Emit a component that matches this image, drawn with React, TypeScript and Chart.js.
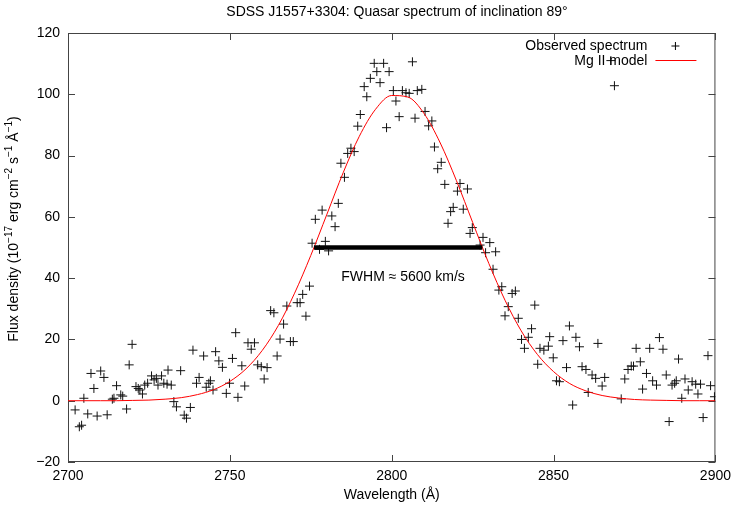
import { useEffect, useRef } from "react";
import { Chart, registerables } from "chart.js";
import type { Plugin } from "chart.js";

Chart.register(...registerables);

const chartTitle = "SDSS J1557+3304: Quasar spectrum of inclination 89°";

// observed spectrum (wavelength in Å, flux in 1e-17 erg/cm2/s/Å)
const obsWave = [
  2702.2, 2703.5, 2704.2, 2704.9, 2706.1, 2707.1, 2708.0, 2709.0, 2710.1, 2711.1,
  2712.1, 2713.7, 2714.2, 2715.0, 2716.3, 2716.9, 2718.1, 2718.9, 2719.8, 2721.0,
  2721.7, 2722.2, 2723.0, 2723.7, 2724.6, 2725.8, 2726.6, 2727.3, 2727.8, 2728.9,
  2729.6, 2730.6, 2730.9, 2731.9, 2732.7, 2733.5, 2734.8, 2735.9, 2736.6, 2737.8,
  2738.6, 2739.7, 2740.5, 2741.9, 2742.7, 2743.5, 2744.0, 2744.8, 2745.6, 2746.6,
  2747.7, 2748.9, 2749.9, 2750.8, 2751.8, 2752.5, 2753.7, 2754.6, 2755.6, 2756.6,
  2757.6, 2758.6, 2759.7, 2760.6, 2761.5, 2762.6, 2763.6, 2764.6, 2765.5, 2766.6,
  2767.6, 2768.7, 2769.6, 2770.8, 2771.7, 2772.5, 2773.5, 2774.6, 2775.4, 2776.4,
  2777.7, 2778.5, 2779.5, 2780.5, 2781.5, 2782.5, 2783.5, 2784.3, 2785.4, 2786.4,
  2787.4, 2788.4, 2789.5, 2790.3, 2791.5, 2792.3, 2793.4, 2794.6, 2795.4, 2796.4,
  2797.5, 2798.4, 2799.2, 2800.5, 2801.3, 2802.3, 2803.3, 2804.4, 2805.4, 2806.4,
  2807.2, 2807.9, 2809.3, 2810.3, 2811.4, 2812.4, 2813.2, 2814.2, 2815.3, 2816.4,
  2817.4, 2818.2, 2819.0, 2820.3, 2821.1, 2822.1, 2823.4, 2824.2, 2824.9, 2827.3,
  2828.2, 2829.0, 2830.3, 2831.3, 2832.1, 2833.1, 2834.0, 2835.0, 2836.0, 2837.2,
  2838.2, 2839.1, 2840.1, 2841.0, 2842.2, 2843.2, 2844.2, 2845.1, 2845.8, 2847.0,
  2848.4, 2848.8, 2849.9, 2850.9, 2851.8, 2852.9, 2854.0, 2854.9, 2855.9, 2856.9,
  2858.0, 2858.8, 2860.0, 2860.7, 2861.9, 2863.0, 2863.7, 2865.0, 2865.8, 2867.7,
  2868.8, 2870.9, 2872.0, 2873.0, 2874.0, 2874.7, 2875.5, 2876.8, 2877.5, 2878.7,
  2879.7, 2880.6, 2881.8, 2882.7, 2883.8, 2884.8, 2885.7, 2886.6, 2887.4, 2887.9,
  2888.6, 2889.6, 2890.6, 2891.6, 2892.8, 2893.9, 2894.6, 2895.4, 2896.2, 2897.7,
  2898.5, 2899.7,
];
const obsFlux = [
  -3.0, -8.5, -8.0, 0.8, -4.3, 8.9, 4.0, -5.0, 9.7, 7.6,
  -4.6, 0.5, 0.8, 4.9, 1.9, 1.5, -2.7, 11.7, 18.4, 4.6,
  4.0, 3.5, 2.2, 5.1, 5.7, 8.1, 6.8, 7.3, 5.1, 8.1,
  5.7, 5.4, 10.0, 5.1, -0.3, -2.0, 9.8, -4.7, -5.7, -2.2,
  16.5, 5.7, 7.6, 14.6, 4.4, 5.7, 6.5, 3.5, 16.0, 13.0,
  10.9, 2.4, 5.7, 13.8, 22.2, 1.1, 11.4, 4.8, 18.9, 16.8,
  18.9, 11.7, 11.1, 7.1, 10.8, 29.4, 28.7, 14.6, 20.1, 25.0,
  30.9, 19.3, 19.3, 32.0, 32.0, 34.7, 27.6, 37.4, 51.4, 59.2,
  49.4, 62.2, 52.0, 48.9, 60.3, 56.8, 64.4, 77.5, 72.9, 80.7,
  82.4, 81.3, 89.6, 93.4, 102.5, 99.2, 105.2, 110.1, 107.4, 103.8,
  110.1, 89.1, 107.4, 101.2, 97.8, 92.7, 101.2, 100.5, 100.3, 110.6,
  92.2, 101.2, 101.6, 94.4, 89.7, 91.3, 82.8, 75.7, 77.8, 70.6,
  57.9, 61.7, 63.1, 68.4, 70.9, 62.5, 69.1, 54.6, 56.5, 50.8,
  53.3, 48.3, 51.6, 42.9, 48.6, 36.1, 37.2, 27.7, 30.7, 35.0,
  35.8, 26.9, 20.0, 17.1, 20.7, 23.5, 31.2, 11.9, 17.1, 16.5,
  17.8, 20.9, 14.0, 6.5, 6.2, 19.6, 10.8, 24.4, -1.4, 20.7,
  17.6, 11.1, 10.2, 2.7, 8.4, 7.3, 18.7, 4.8, 7.6, 111.0,
  102.8, 0.6, 7.1, 10.2, 11.3, 11.3, 17.1, 12.7, 3.8, 8.9,
  17.1, 6.5, 5.1, 20.6, 16.8, 8.4, -6.8, 5.1, 5.7, 6.5,
  13.6, 0.8, 7.1, 3.5, 6.2, 5.4, 2.2, 5.4, -5.5, 14.7,
  4.9, 1.3,
];

// Mg II model curve, read every 5 Å
const modelWave = [
  2700, 2705, 2710, 2715, 2720, 2725, 2730, 2735, 2740, 2745,
  2750, 2755, 2760, 2765, 2770, 2775, 2780, 2785, 2790, 2795,
  2800, 2805, 2810, 2815, 2820, 2825, 2830, 2835, 2840, 2845,
  2850, 2855, 2860, 2865, 2870, 2875, 2880, 2885, 2890, 2895, 2900,
];
const modelFlux = [
  0.0, 0.0, 0.0, 0.0, 0.1, 0.2, 0.5, 1.0, 2.0, 3.6,
  6.3, 10.4, 16.4, 24.6, 35.1, 47.4, 60.9, 74.4, 86.3, 95.1,
  99.6, 99.1, 93.7, 84.1, 71.8, 58.2, 44.8, 32.8, 22.8, 15.1,
  9.5, 5.6, 3.2, 1.7, 0.9, 0.4, 0.2, 0.1, 0.0, 0.0, 0.0,
];

// FWHM bar and its label
const fwhmWave = [2776, 2828];
const fwhmLevel = 50;
const fwhmText = "FWHM ≈ 5600 km/s";
const fwhmTextAt = [2803.5, 40.3];

const xTicks = [2700, 2750, 2800, 2850, 2900];
const yTicks = [-20, 0, 20, 40, 60, 80, 100, 120];

const FONT = "'Liberation Sans', Arial, sans-serif";

const gnuplotLook: Plugin = {
  id: "gnuplotLook",
  beforeDatasetsDraw(chart) {
    const { ctx, chartArea: a, scales } = chart;
    ctx.save();
    ctx.strokeStyle = "#444";
    ctx.lineWidth = 1;
    ctx.strokeRect(a.left + 0.5, a.top + 0.5, a.right - a.left - 1, a.bottom - a.top - 1);
    ctx.beginPath();
    const t = 7;
    xTicks.forEach((v) => {
      const px = Math.round(scales.x.getPixelForValue(v)) + 0.5;
      ctx.moveTo(px, a.bottom);
      ctx.lineTo(px, a.bottom - t);
      ctx.moveTo(px, a.top);
      ctx.lineTo(px, a.top + t);
    });
    yTicks.forEach((v) => {
      const py = Math.round(scales.y.getPixelForValue(v)) + 0.5;
      ctx.moveTo(a.left, py);
      ctx.lineTo(a.left + t, py);
      ctx.moveTo(a.right, py);
      ctx.lineTo(a.right - t, py);
    });
    ctx.stroke();
    ctx.restore();
  },
  afterDraw(chart) {
    const { ctx, chartArea: a, scales } = chart;
    ctx.save();
    ctx.fillStyle = "#000";
    ctx.font = `14px ${FONT}`;
    ctx.textBaseline = "middle";

    // title
    ctx.textAlign = "center";
    ctx.fillText(chartTitle, 397, 12);

    // FWHM label
    ctx.fillText(
      fwhmText,
      scales.x.getPixelForValue(fwhmTextAt[0]),
      scales.y.getPixelForValue(fwhmTextAt[1])
    );

    // legend, gnuplot style
    ctx.textAlign = "right";
    const tx = a.right - 68;
    ctx.fillText("Observed spectrum", tx, a.top + 13);
    ctx.fillText("Mg II model", tx, a.top + 28);
    const sx = a.right - 40;
    const sy = a.top + 13;
    ctx.strokeStyle = "#000";
    ctx.lineWidth = 1;
    ctx.beginPath();
    ctx.moveTo(sx - 4, sy);
    ctx.lineTo(sx + 4, sy);
    ctx.moveTo(sx, sy - 4);
    ctx.lineTo(sx, sy + 4);
    ctx.stroke();
    ctx.strokeStyle = "#ff0000";
    ctx.beginPath();
    ctx.moveTo(a.right - 60, a.top + 27.5);
    ctx.lineTo(a.right - 19, a.top + 27.5);
    ctx.stroke();

    // y axis title with superscripts
    const parts: [string, boolean][] = [
      ["Flux density (10", false],
      ["−17", true],
      [" erg cm", false],
      ["−2", true],
      [" s", false],
      ["−1", true],
      [" Å", false],
      ["−1", true],
      [")", false],
    ];
    const big = `14px ${FONT}`;
    const small = `10px ${FONT}`;
    let total = 0;
    parts.forEach(([s, sup]) => {
      ctx.font = sup ? small : big;
      total += ctx.measureText(s).width;
    });
    ctx.translate(14, 229);
    ctx.rotate(-Math.PI / 2);
    ctx.textAlign = "left";
    let x = -total / 2;
    parts.forEach(([s, sup]) => {
      ctx.font = sup ? small : big;
      ctx.fillText(s, x, sup ? -5 : 0);
      x += ctx.measureText(s).width;
    });
    ctx.restore();
  },
};

const SpectrumChart = () => {
  const canvasRef = useRef<HTMLCanvasElement>(null);

  useEffect(() => {
    document.body.style.margin = "0";
    const observed = obsWave.map((w, i) => ({ x: w, y: obsFlux[i] }));
    const model = modelWave.map((w, i) => ({ x: w, y: modelFlux[i] }));
    const bar = fwhmWave.map((w) => ({ x: w, y: fwhmLevel }));

    const chart = new Chart(canvasRef.current as HTMLCanvasElement, {
      type: "scatter",
      data: {
        datasets: [
          {
            label: "FWHM",
            data: bar,
            showLine: true,
            borderColor: "#000",
            borderWidth: 4.5,
            pointRadius: 0,
            order: 0,
          },
          {
            label: "Mg II model",
            data: model,
            showLine: true,
            borderColor: "#ff0000",
            borderWidth: 1,
            pointRadius: 0,
            cubicInterpolationMode: "monotone",
            order: 1,
          },
          {
            label: "Observed spectrum",
            data: observed,
            pointStyle: "cross",
            pointRadius: 4.5,
            borderColor: "#111",
            backgroundColor: "#111",
            borderWidth: 1,
            order: 2,
          },
        ],
      },
      options: {
        animation: false,
        responsive: true,
        maintainAspectRatio: false,
        layout: { padding: { top: 33, right: 20, left: 0, bottom: 0 } },
        plugins: {
          legend: { display: false },
          title: { display: false },
          tooltip: { enabled: false },
        },
        scales: {
          x: {
            type: "linear",
            min: 2700,
            max: 2900,
            afterFit: (s) => {
              s.height = 45;
            },
            afterBuildTicks: (s) => {
              s.ticks = xTicks.map((v) => ({ value: v }));
            },
            grid: { display: false, drawTicks: false },
            border: { display: false },
            ticks: {
              padding: 6,
              color: "#000",
              font: { family: FONT, size: 14 },
              callback: (v) => String(v),
            },
            title: {
              display: true,
              text: "Wavelength (Å)",
              color: "#000",
              font: { family: FONT, size: 14 },
              padding: { top: 2, bottom: 3 },
            },
          },
          y: {
            type: "linear",
            min: -20,
            max: 120,
            afterFit: (s) => {
              s.width = 68;
            },
            afterBuildTicks: (s) => {
              s.ticks = yTicks.map((v) => ({ value: v }));
            },
            grid: { display: false, drawTicks: false },
            border: { display: false },
            ticks: {
              padding: 8,
              color: "#000",
              font: { family: FONT, size: 14 },
              callback: (v) => String(v).replace("-", "−"),
            },
          },
        },
      },
      plugins: [gnuplotLook],
    });

    return () => chart.destroy();
  }, []);

  return (
    <div style={{ position: "relative", width: 737, height: 507 }}>
      <canvas ref={canvasRef} />
    </div>
  );
};

export default function App() {
  return <SpectrumChart />;
}
